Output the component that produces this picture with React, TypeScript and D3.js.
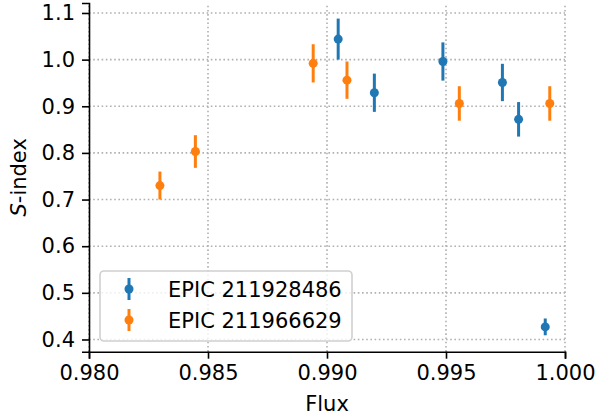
import React, { useRef, useEffect } from 'react';
import * as d3 from 'd3';

// EPIC 211928486
const blueFlux = [0.99047, 0.99199, 0.99487, 0.99737, 0.99805, 0.99917];
const blueS = [1.044, 0.929, 0.996, 0.951, 0.872, 0.427];
const blueErr = [0.044, 0.041, 0.041, 0.040, 0.037, 0.018];

// EPIC 211966629
const orangeFlux = [0.98298, 0.98447, 0.98942, 0.99084, 0.99556, 0.99936];
const orangeS = [0.730, 0.803, 0.992, 0.956, 0.906, 0.906];
const orangeErr = [0.030, 0.035, 0.041, 0.040, 0.037, 0.037];

const seriesNames = ['EPIC 211928486', 'EPIC 211966629'];
const seriesColors = ['#1f77b4', '#ff7f0e'];

const xTicks = [0.98, 0.985, 0.99, 0.995, 1.0];
const yTicks = [0.4, 0.5, 0.6, 0.7, 0.8, 0.9, 1.0, 1.1];

const width = 597;
const height = 419;
const font = 'DejaVu Sans, sans-serif';
const fontSize = '21px';

const App = () => {
  const svgRef = useRef<SVGSVGElement>(null);

  useEffect(() => {
    const svg = d3.select(svgRef.current);
    svg.selectAll('*').remove();

    const x = d3.scaleLinear().domain([0.98, 1.0]).range([89, 565]);
    const y = d3.scaleLinear().domain([0.3738, 1.1214]).range([351.7, 3]);
    const [x0, x1] = x.range();
    const [y0, y1] = y.range();

    // grid
    const grid = svg.append('g').attr('stroke', '#b0b0b0').attr('stroke-width', 1.6)
      .attr('stroke-dasharray', '1.6,2.6');
    grid.selectAll('.gx').data(xTicks).enter().append('line')
      .attr('x1', d => x(d)).attr('x2', d => x(d)).attr('y1', y0).attr('y2', y1);
    grid.selectAll('.gy').data(yTicks).enter().append('line')
      .attr('x1', x0).attr('x2', x1).attr('y1', d => y(d)).attr('y2', d => y(d));

    // axes
    const xAxis = svg.append('g').attr('transform', `translate(0,${y0})`)
      .call(d3.axisBottom(x).tickValues(xTicks).tickFormat(d3.format('.3f')).tickSizeOuter(0).tickSize(7).tickPadding(6));
    const yAxis = svg.append('g').attr('transform', `translate(${x0},0)`)
      .call(d3.axisLeft(y).tickValues(yTicks).tickFormat(d3.format('.1f')).tickSizeOuter(0).tickSize(7).tickPadding(7));
    [xAxis, yAxis].forEach(a => {
      a.selectAll('path').attr('stroke', '#000').attr('stroke-width', 1.6);
      a.selectAll('line').attr('stroke', '#000').attr('stroke-width', 1.6);
      a.selectAll('text').attr('fill', '#000').style('font-family', font).style('font-size', fontSize);
    });

    // series
    const series = [
      { flux: blueFlux, s: blueS, err: blueErr },
      { flux: orangeFlux, s: orangeS, err: orangeErr },
    ];
    series.forEach((ser, k) => {
      const g = svg.append('g');
      const pts = ser.flux.map((f, i) => ({ f, s: ser.s[i], e: ser.err[i] }));
      g.selectAll('line').data(pts).enter().append('line')
        .attr('x1', d => x(d.f)).attr('x2', d => x(d.f))
        .attr('y1', d => y(d.s - d.e)).attr('y2', d => y(d.s + d.e))
        .attr('stroke', seriesColors[k]).attr('stroke-width', 3);
      g.selectAll('circle').data(pts).enter().append('circle')
        .attr('cx', d => x(d.f)).attr('cy', d => y(d.s)).attr('r', 4.5)
        .attr('fill', seriesColors[k]);
    });

    // legend
    const lg = svg.append('g');
    lg.append('rect').attr('x', 100).attr('y', 271).attr('width', 252).attr('height', 70)
      .attr('rx', 4).attr('fill', '#fff').attr('fill-opacity', 0.8)
      .attr('stroke', '#d0d0d0').attr('stroke-width', 1.6);
    seriesNames.forEach((name, k) => {
      const cy = 289 + k * 31;
      lg.append('line').attr('x1', 129).attr('x2', 129).attr('y1', cy - 11).attr('y2', cy + 11)
        .attr('stroke', seriesColors[k]).attr('stroke-width', 3);
      lg.append('circle').attr('cx', 129).attr('cy', cy).attr('r', 4.5).attr('fill', seriesColors[k]);
      lg.append('text').attr('x', 168).attr('y', cy + 7.5).text(name)
        .style('font-family', font).style('font-size', fontSize).attr('fill', '#000');
    });

    // axis labels
    svg.append('text').attr('x', (x0 + x1) / 2).attr('y', 411).attr('text-anchor', 'middle')
      .style('font-family', font).style('font-size', fontSize).text('Flux');
    const yl = svg.append('text').attr('transform', `translate(26,${(y0 + y1) / 2}) rotate(-90)`)
      .attr('text-anchor', 'middle').style('font-family', font).style('font-size', fontSize);
    yl.append('tspan').style('font-style', 'italic').text('S');
    yl.append('tspan').text('-index');
  }, []);

  return (
    <div style={{ position: 'absolute', left: 0, top: 0 }}>
      <svg ref={svgRef} width={width} height={height} style={{ display: 'block' }}></svg>
    </div>
  );
};

export default App;
